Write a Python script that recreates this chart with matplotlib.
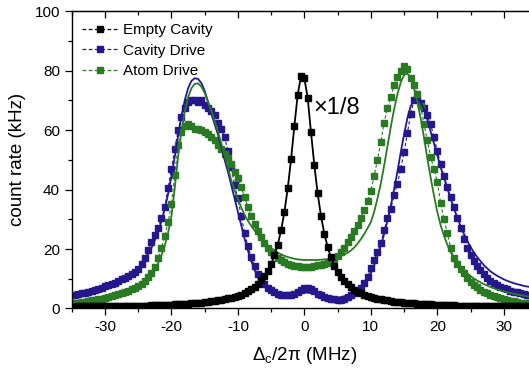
import numpy as np
import matplotlib
matplotlib.use('Agg')
import matplotlib.pyplot as plt
from matplotlib.ticker import MultipleLocator
from matplotlib.lines import Line2D

plt.rcParams['font.family'] = ['Liberation Sans', 'DejaVu Sans']
plt.rcParams['mathtext.default'] = 'regular'
plt.rcParams['axes.unicode_minus'] = False

# detuning grid (MHz), one point every 0.5 MHz
detuning = np.arange(-35, 35.01, 0.5)

# empty cavity (already scaled x1/8)
empty_cavity = [
    0.6, 0.6, 0.7, 0.7, 0.7, 0.7, 0.7, 0.7, 0.7, 0.7,
    0.8, 0.8, 0.8, 0.8, 0.8, 0.8, 0.9, 0.9, 0.9, 0.9,
    1.0, 1.0, 1.0, 1.0, 1.1, 1.1, 1.1, 1.2, 1.2, 1.3,
    1.3, 1.4, 1.4, 1.5, 1.6, 1.6, 1.7, 1.8, 1.9, 2.0,
    2.1, 2.2, 2.4, 2.5, 2.7, 2.9, 3.1, 3.4, 3.6, 3.9,
    4.3, 4.7, 5.2, 5.8, 6.5, 7.3, 8.3, 9.5, 10.9, 12.7,
    14.9, 17.9, 21.5, 26.3, 32.5, 40.4, 50.2, 61.4, 71.9, 78.2,
    77.4, 70.8, 59.2, 48.2, 38.7, 31.1, 25.2, 20.7, 17.2, 14.4,
    12.3, 10.6, 9.2, 8.1, 7.1, 6.3, 5.7, 5.1, 4.6, 4.2,
    3.9, 3.6, 3.3, 3.1, 2.8, 2.7, 2.5, 2.3, 2.2, 2.1,
    2.0, 1.9, 1.8, 1.7, 1.6, 1.5, 1.5, 1.4, 1.4, 1.3,
    1.3, 1.2, 1.2, 1.1, 1.1, 1.1, 1.0, 1.0, 1.0, 0.9,
    0.9, 0.9, 0.9, 0.9, 0.8, 0.8, 0.8, 0.8, 0.8, 0.8,
    0.7, 0.7, 0.7, 0.7, 0.7, 0.7, 0.7, 0.7, 0.6, 0.6,
    0.6]

cavity_drive = [
    4.5, 4.7, 4.9, 5.1, 5.3, 5.6, 5.9, 6.2, 6.6, 7.0,
    7.4, 7.8, 8.2, 8.7, 9.2, 9.8, 10.4, 11.0, 11.7, 12.4,
    13.3, 14.8, 17.0, 19.8, 22.3, 24.8, 27.2, 30.3, 34.0, 40.5,
    47.0, 53.5, 60.0, 64.5, 67.5, 69.5, 70.0, 70.0, 69.5, 70.0,
    68.5, 67.5, 66.5, 65.0, 62.5, 60.5, 57.5, 53.0, 47.5, 41.5,
    37.0, 31.0, 25.5, 21.0, 17.3, 14.3, 11.6, 9.7, 8.2, 7.0,
    6.1, 5.4, 4.9, 4.6, 4.4, 4.4, 4.5, 4.8, 5.4, 6.2,
    6.8, 6.9, 6.5, 5.8, 5.0, 4.4, 3.9, 3.5, 3.3, 3.1,
    3.0, 3.0, 3.3, 3.8, 4.4, 5.1, 5.8, 7.0, 8.5, 10.5,
    13.5, 16.3, 19.0, 22.0, 26.3, 30.3, 33.6, 38.0, 42.0, 47.0,
    52.5, 59.0, 65.5, 70.0, 70.5, 69.0, 67.5, 65.0, 62.0, 57.5,
    53.0, 48.5, 44.5, 41.0, 37.5, 34.0, 30.5, 27.0, 23.5, 20.5,
    18.0, 16.0, 14.3, 12.8, 11.5, 10.3, 9.4, 8.6, 7.9, 7.3,
    6.8, 6.4, 6.0, 5.7, 5.4, 5.1, 4.9, 4.7, 4.5, 4.3,
    4.1]

cavity_drive_fit = [
    4.5, 4.7, 4.9, 5.1, 5.3, 5.5, 5.8, 6.1, 6.4, 6.7,
    7.1, 7.5, 7.9, 8.4, 8.9, 9.5, 10.1, 10.9, 11.7, 12.6,
    13.7, 15.0, 16.5, 18.3, 20.4, 22.9, 25.8, 29.3, 33.5, 38.5,
    44.5, 51.0, 58.0, 64.5, 70.0, 74.0, 76.5, 77.4, 77.2, 75.8,
    73.2, 69.5, 65.5, 62.0, 58.5, 54.5, 50.0, 46.0, 41.5, 37.0,
    32.5, 28.0, 23.5, 19.5, 16.0, 13.0, 10.6, 8.8, 7.5, 6.6,
    6.0, 5.6, 5.2, 5.0, 4.8, 4.7, 4.7, 4.8, 4.9, 5.1,
    5.3, 5.3, 5.2, 4.9, 4.6, 4.3, 4.0, 3.8, 3.6, 3.5,
    3.6, 3.8, 4.1, 4.5, 4.9, 5.4, 5.9, 6.8, 8.0, 9.6,
    11.8, 14.5, 17.5, 21.0, 25.0, 29.5, 34.5, 40.0, 46.0, 52.5,
    58.5, 64.0, 68.0, 70.3, 70.5, 69.3, 67.0, 63.5, 59.5, 55.5,
    51.5, 47.5, 44.0, 40.5, 37.0, 33.7, 30.6, 27.8, 25.2, 22.8,
    20.7, 18.9, 17.3, 15.9, 14.6, 13.5, 12.5, 11.7, 11.0, 10.4,
    9.8, 9.3, 8.9, 8.5, 8.2, 7.9, 7.6, 7.4, 7.2, 7.0,
    6.8]

atom_drive = [
    1.7, 1.9, 2.0, 2.2, 2.3, 2.5, 2.7, 2.9, 3.1, 3.3,
    3.5, 3.8, 4.1, 4.4, 4.8, 5.2, 5.6, 6.0, 6.5, 7.0,
    7.6, 8.3, 9.3, 10.5, 12.0, 14.0, 17.0, 20.5, 24.5, 29.0,
    35.0, 45.0, 55.0, 59.5, 61.5, 62.0, 61.5, 60.5, 60.5, 60.0,
    59.5, 58.5, 57.5, 56.5, 55.0, 53.5, 52.0, 50.5, 48.5, 46.0,
    44.0, 41.0, 37.5, 34.0, 31.0, 28.5, 26.0, 24.0, 22.0, 20.5,
    19.0, 18.0, 17.0, 16.2, 15.6, 15.1, 14.7, 14.4, 14.2, 14.0,
    14.0, 14.0, 14.1, 14.3, 14.5, 14.7, 15.0, 15.4, 16.0, 16.8,
    17.8, 19.0, 20.5, 22.2, 24.0, 26.0, 28.0, 30.5, 33.0, 36.0,
    39.5, 44.5, 50.0, 56.0, 62.5, 67.5, 71.0, 75.0, 78.0, 80.0,
    81.5, 80.5, 77.5, 75.0, 72.0, 68.0, 62.0, 56.5, 51.0, 47.0,
    42.5, 35.5, 30.0, 25.5, 20.5, 17.0, 15.0, 13.2, 11.8, 10.3,
    9.0, 8.0, 7.1, 6.3, 5.7, 5.1, 4.6, 4.2, 3.8, 3.5,
    3.1, 2.9, 2.6, 2.4, 2.2, 2.0, 1.8, 1.7, 1.5, 1.4,
    1.3]

atom_drive_fit = [
    1.8, 1.9, 2.0, 2.1, 2.2, 2.3, 2.5, 2.6, 2.8, 3.0,
    3.2, 3.4, 3.7, 4.0, 4.3, 4.6, 5.0, 5.4, 5.9, 6.5,
    7.1, 7.9, 8.8, 9.9, 11.3, 13.0, 15.2, 17.9, 21.2, 25.5,
    31.0, 40.5, 51.0, 59.5, 66.0, 71.0, 74.0, 75.5, 75.7, 74.6,
    72.5, 69.5, 66.5, 63.0, 59.5, 55.5, 51.5, 47.5, 43.0, 39.8,
    36.8, 34.0, 31.5, 29.5, 27.8, 26.2, 24.8, 23.5, 22.3, 21.2,
    20.3, 19.5, 18.8, 18.2, 17.7, 17.3, 17.0, 16.7, 16.5, 16.4,
    16.3, 16.3, 16.3, 16.3, 16.3, 16.4, 16.5, 16.6, 16.8, 17.0,
    17.3, 17.7, 18.1, 18.7, 19.5, 20.5, 21.8, 23.3, 25.0, 27.0,
    29.0, 32.5, 37.0, 42.0, 48.0, 54.5, 61.0, 67.0, 72.0, 76.0,
    78.5, 79.0, 77.5, 74.0, 69.5, 64.0, 57.5, 50.5, 44.0, 38.0,
    32.5, 28.0, 24.5, 21.5, 19.0, 17.0, 15.3, 14.0, 12.8, 11.8,
    10.9, 10.1, 9.4, 8.8, 8.2, 7.7, 7.2, 6.8, 6.4, 6.1,
    5.7, 5.4, 5.2, 4.9, 4.7, 4.5, 4.3, 4.1, 3.9, 3.8,
    3.6]

labels = ['Empty Cavity', 'Cavity Drive', 'Atom Drive']
colors = ['black', '#24188c', '#2a7a24']

fig = plt.figure(figsize=(5.29, 3.69), dpi=100)
# the right end of the x axis is cut off by the image border
ax = fig.add_axes([0.1356, 0.164, 0.8795, 0.806])

dash = (0, (3, 2))
series = [(cavity_drive, cavity_drive_fit), (atom_drive, atom_drive_fit)]
for (data, fit), c in zip(series, colors[1:]):
    ax.plot(detuning, data, ls=dash, lw=0.8, color=c, marker='s', ms=4.2,
            mec=c, mfc=c)
for (data, fit), c in zip(series, colors[1:]):
    ax.plot(detuning, fit, '-', lw=1.3, color=c)
ax.plot(detuning, empty_cavity, '-', lw=1.3, color='black', marker='s', ms=4.2)

ax.text(1.3, 67.5, u'\u00d71/8', fontsize=17, va='center', ha='left')

handles = [Line2D([], [], ls=dash, lw=0.9, color=c, marker='s', ms=5)
           for c in colors]
ax.legend(handles, labels, loc='upper left', frameon=False, fontsize=11,
          handlelength=2.3, handletextpad=0.35, labelspacing=0.42,
          borderaxespad=0.3, bbox_to_anchor=(0.0, 0.995))

ax.set_xlim(-35, 35)
ax.set_ylim(0, 100)
ax.xaxis.set_major_locator(MultipleLocator(10))
ax.xaxis.set_minor_locator(MultipleLocator(5))
ax.yaxis.set_major_locator(MultipleLocator(20))
ax.yaxis.set_minor_locator(MultipleLocator(10))
ax.tick_params(which='both', direction='out', labelsize=11, width=0.9)
ax.tick_params(which='major', length=5)
ax.tick_params(which='minor', length=3)

top = ax.secondary_xaxis('top')
top.xaxis.set_major_locator(MultipleLocator(10))
top.xaxis.set_minor_locator(MultipleLocator(5))
top.tick_params(which='both', direction='in', labeltop=False, width=0.9)
top.tick_params(which='major', length=5)
top.tick_params(which='minor', length=3)

for s in ax.spines.values():
    s.set_linewidth(1.0)

ax.set_xlabel(r'$\Delta_c/2\pi$ (MHz)', fontsize=13.5, labelpad=8)
ax.set_ylabel('count rate (kHz)', fontsize=13.5, labelpad=6)

fig.savefig('out.png', dpi=100)
